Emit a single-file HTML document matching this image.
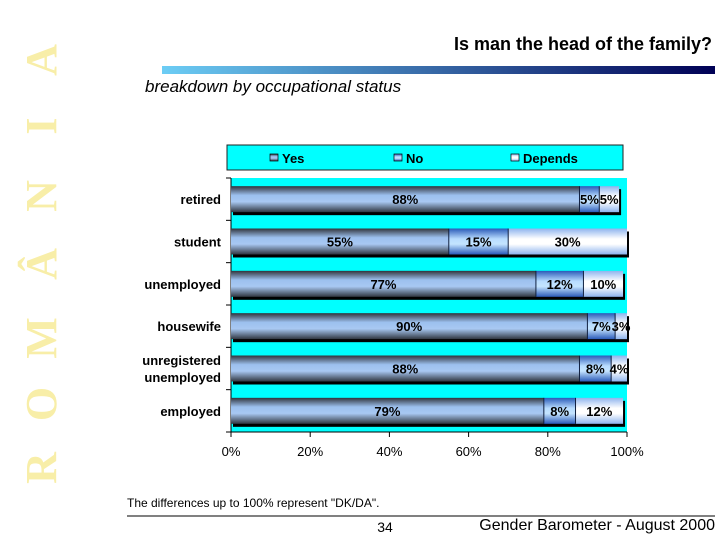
<!DOCTYPE html>
<html><head><meta charset="utf-8"><style>
body{margin:0;background:#fff;}
svg{display:block;font-family:"Liberation Sans",Arial,sans-serif;}
</style></head><body>
<svg width="720" height="540" viewBox="0 0 720 540" xmlns="http://www.w3.org/2000/svg">
<defs>
<linearGradient id="hdr" x1="0" x2="1" y1="0" y2="0"><stop offset="0" stop-color="#6ccdf5"/><stop offset="1" stop-color="#000055"/></linearGradient>
<linearGradient id="gY" x1="0" x2="0" y1="0" y2="1"><stop offset="0" stop-color="#30343c"/><stop offset="0.35" stop-color="#9cc0ee"/><stop offset="0.6" stop-color="#a8c8f2"/><stop offset="1" stop-color="#303640"/></linearGradient>
<linearGradient id="gN" x1="0" x2="0" y1="0" y2="1"><stop offset="0" stop-color="#2a5ab8"/><stop offset="0.4" stop-color="#b8dcff"/><stop offset="0.6" stop-color="#c4e4ff"/><stop offset="1" stop-color="#2a5ab8"/></linearGradient>
<linearGradient id="gD" x1="0" x2="0" y1="0" y2="1"><stop offset="0" stop-color="#8eb4ee"/><stop offset="0.4" stop-color="#ffffff"/><stop offset="0.6" stop-color="#ffffff"/><stop offset="1" stop-color="#8eb4ee"/></linearGradient>
</defs>
<g fill="#f8eea8" font-family="Liberation Serif,serif" font-weight="bold" font-size="44" text-anchor="middle">
<text transform="translate(56,468) rotate(-90)">R</text>
<text transform="translate(56,404) rotate(-90)">O</text>
<text transform="translate(56,338) rotate(-90)">M</text>
<text transform="translate(56,264) rotate(-90)">Â</text>
<text transform="translate(56,196) rotate(-90)">N</text>
<text transform="translate(56,126) rotate(-90)">I</text>
<text transform="translate(56,60) rotate(-90)">A</text>
</g>
<text x="712" y="50" text-anchor="end" font-size="18" font-weight="bold">Is man the head of the family?</text>
<rect x="162" y="66" width="553" height="8" fill="url(#hdr)"/>
<text x="145" y="92" font-size="17" font-style="italic">breakdown by occupational status</text>
<g>
<rect x="227" y="145" width="396" height="25" fill="#00ffff" stroke="#222" stroke-width="1"/>
<rect x="270" y="154" width="8" height="7" fill="url(#gY)" stroke="#000" stroke-width="0.7"/>
<text x="282" y="163" font-size="13" font-weight="bold">Yes</text>
<rect x="394" y="154" width="8" height="7" fill="url(#gN)" stroke="#000" stroke-width="0.7"/>
<text x="406" y="163" font-size="13" font-weight="bold">No</text>
<rect x="511" y="154" width="8" height="7" fill="url(#gD)" stroke="#000" stroke-width="0.7"/>
<text x="523" y="163" font-size="13" font-weight="bold">Depends</text>
</g>
<rect x="231" y="178" width="396" height="254" fill="#00ffff"/>
<g id="chart"></g>
<text x="127" y="507" font-size="12">The differences up to 100% represent "DK/DA".</text>
<line x1="127" y1="516" x2="715" y2="516" stroke="#000" stroke-width="1"/>
<text x="385" y="532" font-size="14" text-anchor="middle">34</text>
<text x="715" y="530" font-size="16" text-anchor="end">Gender Barometer - August 2000</text>
</svg>
<script>
const categories = ["retired","student","unemployed","housewife","unregistered unemployed","employed"];
const yesValues = [88,55,77,90,88,79];
const noValues = [5,15,12,7,8,8];
const dependsValues = [5,30,10,3,4,12];
const tickLabels = ["0%","20%","40%","60%","80%","100%"];
const tickValues = [0,20,40,60,80,100];

const NS="http://www.w3.org/2000/svg";
const g=document.getElementById('chart');
const X0=231,X1=627,Y0=178,Y1=432;
const xs=v=>X0+(X1-X0)*v/100;
const rowH=(Y1-Y0)/categories.length;
const yc=i=>Y0+rowH*(i+0.5);
const barH=26;
function mk(tag,attrs){const e=document.createElementNS(NS,tag);for(const k in attrs)e.setAttribute(k,attrs[k]);g.appendChild(e);return e;}
const ax=mk('line',{x1:X0,y1:Y0,x2:X0,y2:Y1,stroke:'#000'});


const bx=mk('line',{x1:X0,y1:Y1,x2:X1,y2:Y1,stroke:'#000'});


for(let i=0;i<=categories.length;i++){
  const t=mk('line',{x1:X0-5,x2:X0,y1:Y0+rowH*i,y2:Y0+rowH*i,stroke:'#000'});
  
  
}
tickValues.forEach((v,i)=>{
  const t=mk('line',{x1:xs(v),x2:xs(v),y1:Y1,y2:Y1+5,stroke:'#000'});
  
  
  const l=mk('text',{x:xs(v),y:Y1+24,'text-anchor':'middle','font-size':13});
  l.textContent=tickLabels[i];
  
  
});
categories.forEach((c,i)=>{
  const y=yc(i);
  const lab=mk('text',{x:221,'text-anchor':'end','font-size':13,'font-weight':'bold'});
  
  
  const parts=c==="unregistered unemployed"?["unregistered","unemployed"]:[c];
  parts.forEach((p,j)=>{const ts=document.createElementNS(NS,'tspan');ts.setAttribute('x',221);ts.setAttribute('y',y+5+(j-(parts.length-1)/2)*17);ts.textContent=p;lab.appendChild(ts);});
  const segs=[[yesValues[i],'url(#gY)','yes'],[noValues[i],'url(#gN)','no'],[dependsValues[i],'url(#gD)','depends']];
  let acc=0;
  const total=yesValues[i]+noValues[i]+dependsValues[i];
  const sh=mk('rect',{x:xs(0)+2,y:y-barH/2+3,width:xs(total)-xs(0),height:barH,fill:'#000'});
  
  
  segs.forEach(([v,f,n])=>{
    const r=mk('rect',{x:xs(acc),y:y-barH/2,width:xs(acc+v)-xs(acc),height:barH,fill:f});
    
    
    if(acc>0){mk('line',{x1:xs(acc),x2:xs(acc),y1:y-barH/2,y2:y+barH/2,stroke:'#102040','stroke-width':1});}
    const t=mk('text',{x:(xs(acc)+xs(acc+v))/2,y:y+5,'text-anchor':'middle','font-size':13,'font-weight':'bold',fill:'#000'});
    t.textContent=v+'%';
    
    
    acc+=v;
  });
});
</script>
</body></html>
